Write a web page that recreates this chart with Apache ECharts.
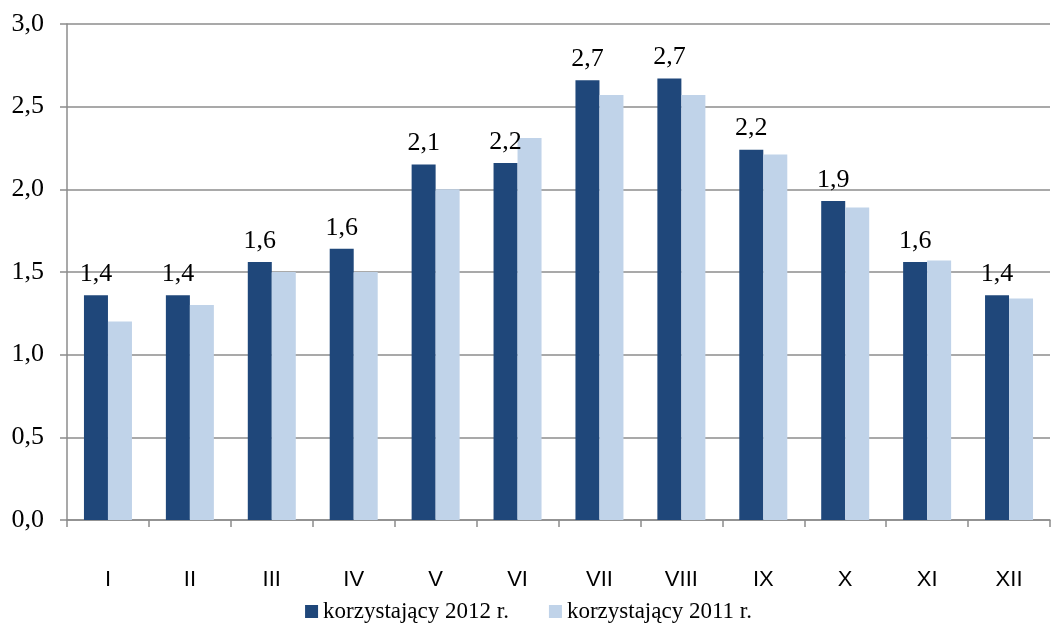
<!DOCTYPE html>
<html>
<head>
<meta charset="utf-8">
<script src="https://cdn.jsdelivr.net/npm/echarts@6/dist/echarts.min.js"></script>
<style>
html,body{margin:0;padding:0;background:#fff;}
#chartDiv{width:1057px;height:626px;}
</style>
</head>
<body>
<div id="chartDiv"></div>
<script>
var months = ['I','II','III','IV','V','VI','VII','VIII','IX','X','XI','XII'];
var data2012 = [1.36,1.36,1.56,1.64,2.15,2.16,2.66,2.67,2.24,1.93,1.56,1.36];
var data2011 = [1.20,1.30,1.50,1.50,2.00,2.31,2.57,2.57,2.21,1.89,1.57,1.34];
var seriesNames = ['korzystający 2012 r.','korzystający 2011 r.'];

var myChart = echarts.init(document.getElementById('chartDiv'));

var fmt = function(v){
    return v.toFixed(1).replace('.', ',');
};

var option = {
    animation:false,
    grid:{
        left:67,
        right:7,
        top:24,
        bottom:106
    },
    legend:{
        top:595,
        left:'center',
        itemWidth:13,
        itemHeight:13,
        itemGap:40,
        icon:'rect',
        textStyle:{
            fontFamily:'Liberation Serif',
            fontSize:23,
            color:'#000'
        },
        data:seriesNames
    },
    xAxis:{
        type:'category',
        data:months,
        axisLine:{lineStyle:{color:'#8c8c8c',width:1.5}},
        axisTick:{show:true,length:7,lineStyle:{color:'#8c8c8c',width:1.5}},
        axisLabel:{
            margin:49,
            fontFamily:'Liberation Sans',
            fontSize:22,
            color:'#000'
        }
    },
    yAxis:{
        type:'value',
        min:0,
        max:3,
        interval:0.5,
        axisLine:{show:true,lineStyle:{color:'#8c8c8c',width:1.5}},
        axisTick:{show:true,length:7,lineStyle:{color:'#8c8c8c',width:1.5}},
        splitLine:{lineStyle:{color:'#8c8c8c',width:1.5}},
        axisLabel:{
            margin:23,
            fontFamily:'Liberation Serif',
            fontSize:26,
            color:'#000',
            formatter:function(v){ return fmt(v); }
        }
    },
    series:[
        {
            name:seriesNames[0],
            type:'bar',
            data:data2012,
            barWidth:24,
            barGap:'0%',
            itemStyle:{color:'#1f477a'},
            label:{
                show:true,
                position:'top',
                distance:8,
                fontFamily:'Liberation Serif',
                fontSize:26,
                color:'#000',
                formatter:function(p){ return fmt(p.value); }
            }
        },
        {
            name:seriesNames[1],
            type:'bar',
            data:data2011,
            barWidth:24,
            barGap:'0%',
            itemStyle:{color:'#c0d3e9'}
        }
    ]
};

myChart.setOption(option);
</script>
</body>
</html>
